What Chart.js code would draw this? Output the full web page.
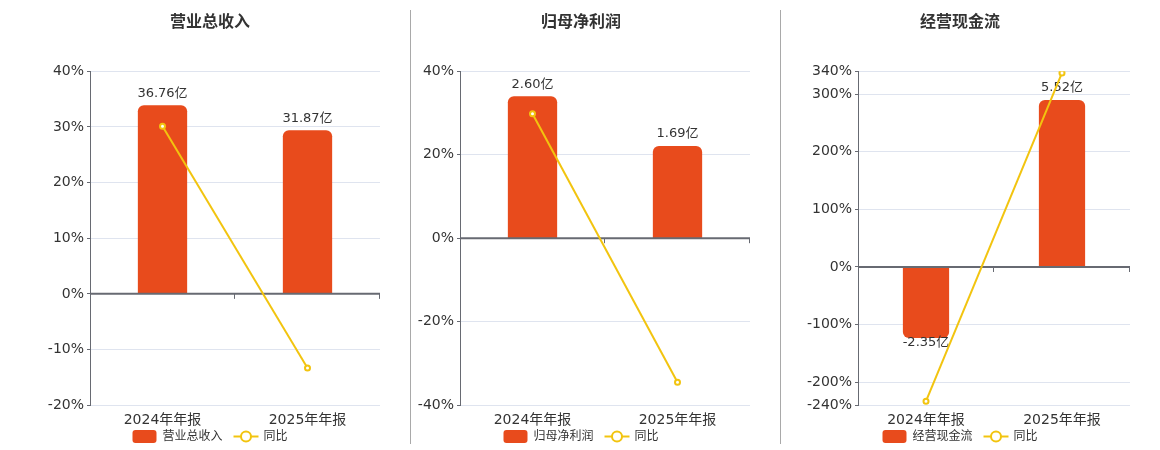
<!DOCTYPE html>
<html>
<head>
<meta charset="utf-8">
<script src="https://cdn.jsdelivr.net/npm/chart.js@4.4.1/dist/chart.umd.min.js"></script>
<style>
    body { margin: 0; background: #fff; width: 1160px; height: 450px; position: relative; overflow: hidden; }
    .panel { position: absolute; top: 0; height: 450px; }
    .sep { position: absolute; top: 10px; height: 434px; width: 1px; background: #a9a9a9; }
</style>
</head>
<body>
<div class="panel" style="left:0;width:410px"><canvas id="c1"></canvas></div>
<div class="sep" style="left:410px"></div>
<div class="panel" style="left:410px;width:370px"><canvas id="c2"></canvas></div>
<div class="sep" style="left:780px"></div>
<div class="panel" style="left:780px;width:380px"><canvas id="c3"></canvas></div>
<script>
// Data
const categories = ['2024年年报', '2025年年报'];

const revenue = [36.76, 31.87];        // 亿
const revenueYoY = [30.1, -13.3];      // %
const revenueTicks = [-20, -10, 0, 10, 20, 30, 40];

const netProfit = [2.60, 1.69];
const netProfitYoY = [29.8, -34.5];
const netProfitTicks = [-40, -20, 0, 20, 40];

const cashFlow = [-2.35, 5.52];
const cashFlowYoY = [-233, 337];
const cashFlowTicks = [-240, -200, -100, 0, 100, 200, 300, 340];

const BAR_COLOR = '#E84B1C';
const LINE_COLOR = '#F2C40F';
const FONT = '"DejaVu Sans", "Noto Sans CJK SC", sans-serif';

// zero line + category ticks + value labels, drawn right after the bars
const barExtras = {
    id: 'barExtras',
    afterDatasetDraw(chart, args) {
        if (args.meta.type !== 'bar') return;
        const { ctx, chartArea, scales } = chart;
        const y0 = scales.y.getPixelForValue(0);
        ctx.save();
        ctx.strokeStyle = '#676a72';
        ctx.lineWidth = 2;
        ctx.beginPath(); ctx.moveTo(chartArea.left, y0); ctx.lineTo(chartArea.right, y0); ctx.stroke();
        ctx.lineWidth = 1;
        for (let i = 1; i <= categories.length; i++) {
            const x = Math.round(scales.x.getPixelForValue(i - 0.5)) - 0.5;
            ctx.beginPath(); ctx.moveTo(x, y0); ctx.lineTo(x, y0 + 5); ctx.stroke();
        }
        const vals = chart.data.datasets[args.index].data;
        ctx.font = '13px ' + FONT;
        ctx.fillStyle = '#333';
        ctx.textAlign = 'center';
        ctx.textBaseline = 'middle';
        args.meta.data.forEach((bar, i) => {
            const v = vals[i];
            const y = v >= 0 ? bar.y - 12 : bar.y + 5;
            ctx.fillText(v.toFixed(2) + '亿', bar.x, y);
        });
        ctx.restore();
    }
};

// compact legend under the axis labels (built-in legend can't sit this tight)
const tightLegend = {
    id: 'tightLegend',
    afterDraw(chart) {
        const { ctx } = chart;
        const pad = chart.options.layout.padding;
        const cx = (pad.left + chart.width - pad.right) / 2;
        const y = chart.height - 13.5;
        const [barSet, lineSet] = chart.data.datasets;
        ctx.save();
        ctx.font = '12px ' + FONT;
        ctx.textBaseline = 'middle';
        const w1 = ctx.measureText(barSet.label).width;
        const w2 = ctx.measureText(lineSet.label).width;
        const total = 24 + 6 + w1 + 11 + 25 + 5 + w2;
        let x = cx - total / 2;
        ctx.fillStyle = barSet.backgroundColor;
        ctx.beginPath(); ctx.roundRect(x, y - 6.5, 24, 13, 3); ctx.fill();
        x += 30;
        ctx.fillStyle = '#333';
        ctx.fillText(barSet.label, x, y);
        x += w1 + 11;
        ctx.strokeStyle = lineSet.borderColor; ctx.lineWidth = 2;
        ctx.beginPath(); ctx.moveTo(x, y); ctx.lineTo(x + 25, y); ctx.stroke();
        ctx.fillStyle = '#fff';
        ctx.beginPath(); ctx.arc(x + 12.5, y, 5, 0, Math.PI * 2); ctx.fill(); ctx.stroke();
        x += 30;
        ctx.fillStyle = '#333';
        ctx.fillText(lineSet.label, x, y);
        ctx.restore();
    }
};

function makeChart(id, title, barName, bars, yoy, ticks, y1min, y1max, padLeft, axisWidth) {
    new Chart(document.getElementById(id), {
        type: 'bar',
        data: {
            labels: categories,
            datasets: [{
                type: 'bar',
                label: barName,
                data: bars,
                yAxisID: 'y1',
                backgroundColor: BAR_COLOR,
                borderRadius: 6,
                barPercentage: 0.34,
                categoryPercentage: 1,
                order: 1
            }, {
                type: 'line',
                label: '同比',
                data: yoy,
                yAxisID: 'y',
                borderColor: LINE_COLOR,
                borderWidth: 2,
                pointRadius: 2.5,
                pointBorderWidth: 2,
                pointBackgroundColor: '#fff',
                pointBorderColor: LINE_COLOR,
                tension: 0,
                order: 0
            }]
        },
        options: {
            responsive: true, maintainAspectRatio: false, animation: false,
            layout: { padding: { left: padLeft, right: 30, bottom: 14, top: 0 } },
            plugins: {
                title: {
                    display: true, text: title, color: '#333',
                    font: { size: 16, weight: 'bold', family: FONT },
                    padding: { top: 13, bottom: 39 }
                },
                legend: { display: false },
                tooltip: { enabled: false }
            },
            scales: {
                x: {
                    grid: { display: false, drawTicks: false },
                    border: { display: false },
                    ticks: { color: '#333', padding: 7, font: { size: 14, family: FONT } }
                },
                y: {
                    min: ticks[0], max: ticks[ticks.length - 1],
                    afterBuildTicks: s => { s.ticks = ticks.map(v => ({ value: v })); },
                    afterFit: s => { s.width = axisWidth; },
                    grid: { color: '#dfe4ef', tickColor: '#676a72', tickLength: 3 },
                    border: { color: '#676a72' },
                    ticks: { color: '#333', padding: 3, font: { size: 14, family: FONT }, callback: v => v + '%' }
                },
                y1: {
                    display: false, min: y1min, max: y1max
                }
            }
        },
        plugins: [barExtras, tightLegend]
    });
}

makeChart('c1', '营业总收入', '营业总收入', revenue, revenueYoY, revenueTicks, -21.69, 43.37, 40, 50);
makeChart('c2', '归母净利润', '归母净利润', netProfit, netProfitYoY, netProfitTicks, -3.06, 3.06, 2, 48);
makeChart('c3', '经营现金流', '经营现金流', cashFlow, cashFlowYoY, cashFlowTicks, -4.568, 6.47, 10, 68);
</script>
</body>
</html>
